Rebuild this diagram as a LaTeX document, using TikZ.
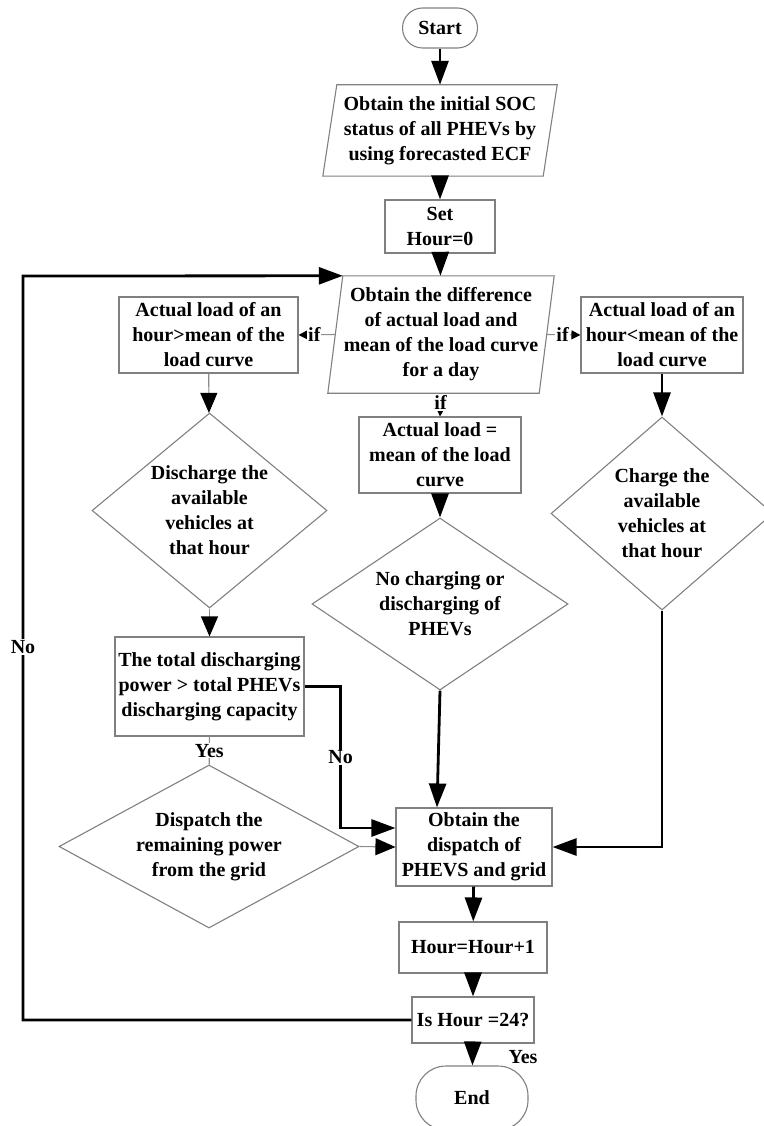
\documentclass[tikz,border=0pt]{standalone}
\usepackage{fontspec}
\setmainfont{Liberation Serif}
\usetikzlibrary{arrows.meta,calc,shapes.geometric}

\definecolor{boxgray}{gray}{0.5}
\definecolor{linegray}{gray}{0.55}

\begin{document}
\begin{tikzpicture}[x=1pt,y=-1pt,
  every node/.style={font=\bfseries\fontsize{20}{25}\selectfont, align=center, inner sep=0pt},
  outline/.style={draw=boxgray, line width=1.1pt},
  procbox/.style={outline, rectangle},
  term/.style={outline, rectangle},
  decision/.style={outline, diamond},
  flow/.style={line width=2.8pt, -{Triangle[length=24pt,width=17pt]}},
  thinflow/.style={draw=linegray, line width=1.1pt, -{Triangle[length=20pt,width=17pt,color=black]}},
  thinline/.style={draw=linegray, line width=1.1pt},
  ifflow/.style={draw=linegray, line width=1.1pt, -{Triangle[length=9pt,width=9pt,color=black]}},
  tag/.style={fill=white, inner sep=1pt}
]
\useasboundingbox (0,0) rectangle (763,1126);

% terminals
\node[term, rounded corners=20pt, minimum width=75pt, minimum height=40pt] (start) at (440,28) {Start};
\node[term, rounded corners=30pt, minimum width=112pt, minimum height=64pt] (end) at (472,1098) {End};

% input / data blocks (parallelograms drawn from their frame nodes)
\node[minimum width=220pt, minimum height=91pt] (p1) at (440,130.5)
  {Obtain the initial SOC\\status of all PHEVs by\\using forecasted ECF};
\draw[outline] ($(p1.north west)+(7,0)$) -- ($(p1.north east)+(7,0)$)
  -- ($(p1.south east)+(-7,0)$) -- ($(p1.south west)+(-7,0)$) -- cycle;

\node[procbox, minimum width=110pt, minimum height=53pt] (set) at (440,226.5) {Set\\Hour=0};

\node[minimum width=211pt, minimum height=117pt] (p2) at (441,334.5)
  {Obtain the difference\\of actual load and\\mean of the load curve\\for a day};
\draw[outline] ($(p2.north west)+(7.5,0)$) -- ($(p2.north east)+(7.5,0)$)
  -- ($(p2.south east)+(-7.5,0)$) -- ($(p2.south west)+(-7.5,0)$) -- cycle;
\coordinate (p2tl) at ($(p2.north west)+(7.5,0)$);

% three cases
\node[procbox, minimum width=179pt, minimum height=76pt] (b1) at (208.5,335)
  {Actual load of an\\hour>mean of the\\load curve};
\node[procbox, minimum width=162pt, minimum height=76pt] (b2) at (662,335)
  {Actual load of an\\hour<mean of the\\load curve};
\node[procbox, minimum width=162pt, minimum height=76pt] (b3) at (440,455)
  {Actual load =\\mean of the load\\curve};

% actions
\node[decision, minimum width=235pt, minimum height=195pt] (d1) at (209.5,510.5) {};
\node (d1t) at (d1) {Discharge the\\available\\vehicles at\\that hour};
\node[decision, minimum width=222pt, minimum height=193pt] (d2) at (662,513.5) {};
\node (d2t) at (d2) {Charge the\\available\\vehicles at\\that hour};
\node[decision, minimum width=256pt, minimum height=172pt] (d3) at (440,604) {};
\node (d3t) at (d3) {No charging or\\discharging of\\PHEVs};

\node[procbox, minimum width=189pt, minimum height=99pt] (b4) at (209.5,686.5)
  {The total discharging\\power > total PHEVs\\discharging capacity};
\node[decision, minimum width=300pt, minimum height=163pt] (d4) at (209,846.5) {};
\node (d4t) at (d4) {Dispatch the\\remaining power\\from the grid};

\node[procbox, minimum width=156pt, minimum height=78pt] (b5) at (474,847)
  {Obtain the\\dispatch of\\PHEVS and grid};
\node[procbox, minimum width=148pt, minimum height=51pt] (b6) at (473,947.5) {Hour=Hour+1};
\node[procbox, minimum width=122pt, minimum height=46pt] (b7) at (473,1020) {Is Hour =24?};

% main flow
\draw[flow] (start) -- (p1);
\draw[flow] (p1) -- (set);
\draw[flow] (set) -- (p2);
\draw[ifflow] (p2.west) -- node[tag, pos=0.57] {if} (b1.east);
\draw[ifflow] (p2.east) -- node[tag, pos=0.47] {if} (b2.west);
\draw[ifflow] (p2.south) -- node[tag, pos=0.4] {if} (b3.north);

\draw[thinflow] (b1) -- (d1);
\draw[flow] (b2) -- (d2);
\draw[flow] (b3) -- (d3);
\draw[thinflow] (d1) -- (b4);
\draw[thinline] (b4) -- node[tag] {Yes} (d4);
\draw[flow] (b4.east) -- ++(36,0) |- node[tag, pos=0.25] {No} ([yshift=19pt]b5.west);
\draw[thinflow] (d4.east) -- (b5.west);
\draw[flow] (d3.south) -- ([xshift=-37pt]b5.north);
\draw[flow] (d2.south) |- (b5.east);
\draw[flow] (b5) -- (b6);
\draw[flow] (b6) -- (b7);
\draw[flow] (b7) -- (end);
\node at (523,1057) {Yes};

% loop back
\coordinate (loopT) at (23,276);
\draw[flow] (b7.west) -| (loopT) -- (p2tl);
\node[tag] (noloop) at (23,647) {No};
\end{tikzpicture}
\end{document}
